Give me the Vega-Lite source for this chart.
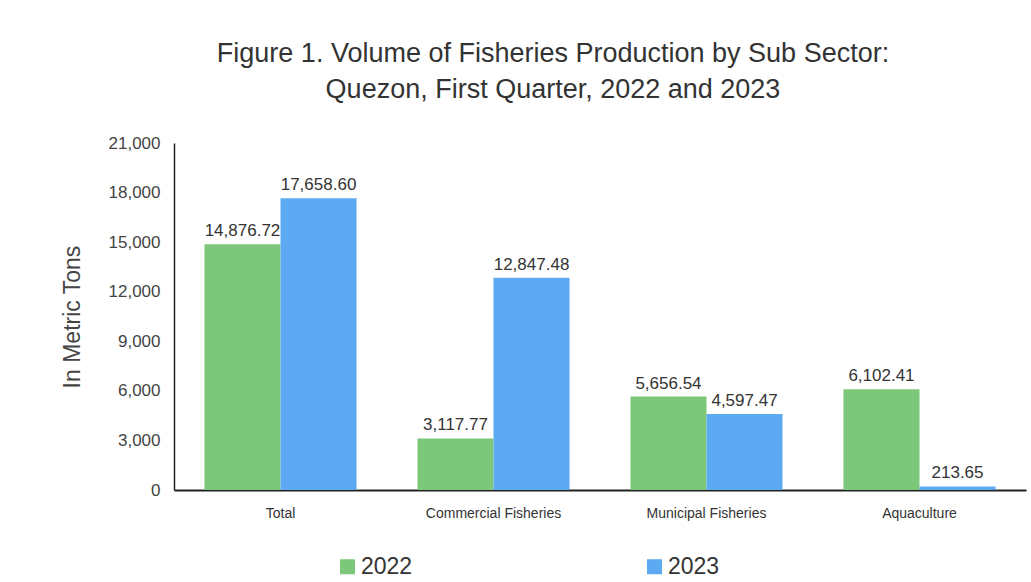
{
  "$schema": "https://vega.github.io/schema/vega-lite/v6.json",
  "width": 852,
  "height": 347,
  "autosize": {"type": "none"},
  "padding": {"left": 174, "top": 143, "right": 5, "bottom": 92},
  "background": "white",
  "config": {
    "font": "Liberation Sans",
    "view": {"stroke": null}
  },
  "title": {
    "text": ["Figure 1. Volume of  Fisheries Production by Sub Sector:", "Quezon, First Quarter, 2022 and 2023"],
    "font": "Liberation Sans",
    "fontSize": 27,
    "fontWeight": "normal",
    "color": "#333333",
    "lineHeight": 36,
    "anchor": "middle",
    "dx": -47,
    "offset": 30
  },
  "data": {
    "values": [
      {"sector": "Total", "year": "2022", "volume": 14876.72, "label": "14,876.72"},
      {"sector": "Total", "year": "2023", "volume": 17658.60, "label": "17,658.60"},
      {"sector": "Commercial Fisheries", "year": "2022", "volume": 3117.77, "label": "3,117.77"},
      {"sector": "Commercial Fisheries", "year": "2023", "volume": 12847.48, "label": "12,847.48"},
      {"sector": "Municipal Fisheries", "year": "2022", "volume": 5656.54, "label": "5,656.54"},
      {"sector": "Municipal Fisheries", "year": "2023", "volume": 4597.47, "label": "4,597.47"},
      {"sector": "Aquaculture", "year": "2022", "volume": 6102.41, "label": "6,102.41"},
      {"sector": "Aquaculture", "year": "2023", "volume": 213.65, "label": "213.65"}
    ]
  },
  "encoding": {
    "x": {
      "field": "sector",
      "type": "nominal",
      "sort": ["Total", "Commercial Fisheries", "Municipal Fisheries", "Aquaculture"],
      "scale": {"paddingInner": 0.286, "paddingOuter": 0.143},
      "axis": {
        "title": null,
        "labelAngle": 0,
        "labelFontSize": 14,
        "labelColor": "#333333",
        "labelPadding": 16,
        "ticks": false,
        "domainColor": "#222222",
        "domainWidth": 2
      }
    },
    "xOffset": {"field": "year", "type": "nominal", "scale": {"paddingInner": 0, "paddingOuter": 0}},
    "y": {
      "field": "volume",
      "type": "quantitative",
      "scale": {"domain": [0, 21000], "nice": false},
      "axis": {
        "title": "In Metric Tons",
        "titleFontSize": 23,
        "titleFontWeight": "normal",
        "titleColor": "#444444",
        "titlePadding": 24,
        "values": [0, 3000, 6000, 9000, 12000, 15000, 18000, 21000],
        "format": ",d",
        "labelFontSize": 17,
        "labelColor": "#444444",
        "labelPadding": 14,
        "ticks": false,
        "grid": false,
        "domainColor": "#222222",
        "domainWidth": 1.5
      }
    }
  },
  "layer": [
    {
      "mark": {"type": "bar"},
      "encoding": {
        "color": {
          "field": "year",
          "type": "nominal",
          "scale": {"domain": ["2022", "2023"], "range": ["#7cc77a", "#5eaaf2"]},
          "legend": {
            "title": null,
            "orient": "none",
            "legendX": 162,
            "legendY": 412,
            "direction": "horizontal",
            "columns": 2,
            "columnPadding": 230,
            "symbolType": "square",
            "symbolSize": 225,
            "symbolStrokeWidth": 0,
            "labelFontSize": 23,
            "labelFont": "Liberation Sans",
            "labelColor": "#333333",
            "labelOffset": 2
          }
        }
      }
    },
    {
      "mark": {"type": "text", "baseline": "bottom", "dy": -4, "fontSize": 17, "color": "#333333"},
      "encoding": {
        "text": {"field": "label"}
      }
    }
  ]
}
